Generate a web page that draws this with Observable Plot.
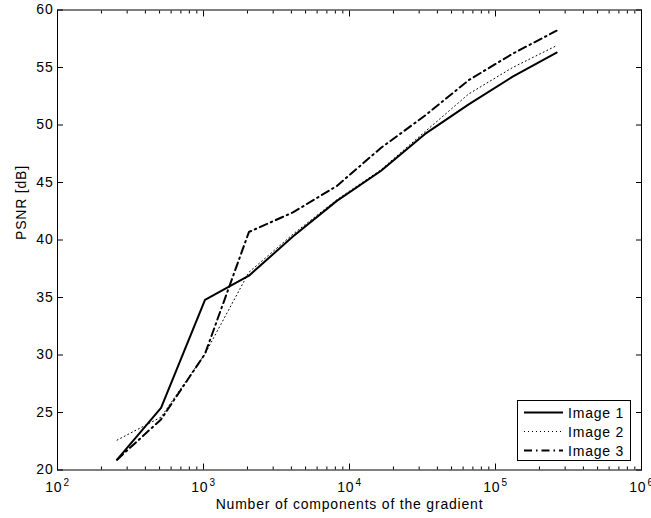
<!DOCTYPE html>
<html><head><meta charset="utf-8">
<script src="https://cdn.jsdelivr.net/npm/d3@7"></script>
<script src="https://cdn.jsdelivr.net/npm/@observablehq/plot@0.6"></script>
<style>
body{margin:0;background:#fff;}
#wrap{position:relative;width:651px;height:518px;font-family:"Liberation Sans",Arial,Helvetica,sans-serif;}
#legend{position:absolute;left:517px;top:400px;width:112px;height:59px;border:1px solid #000;background:#fff;box-sizing:content-box;}
.lrow{position:absolute;left:0;height:19px;display:flex;align-items:center;font-size:14px;color:#000;letter-spacing:0.8px;}
</style></head><body><div id="wrap"></div>
<script>
// ---- data ----
const components = [256, 512, 1024, 2048, 4096, 8192, 16384, 32768, 65536, 131072, 262144];
const image1 = [20.9, 25.4, 34.8, 36.9, 40.3, 43.4, 46.0, 49.2, 51.8, 54.2, 56.3];
const image2 = [22.6, 24.6, 30.1, 37.2, 40.5, 43.5, 46.1, 49.4, 52.7, 55.0, 56.9];
const image3 = [20.9, 24.4, 30.1, 40.7, 42.4, 44.7, 48.0, 50.8, 53.9, 56.2, 58.2];
const seriesNames = ["Image 1", "Image 2", "Image 3"];
const xMajorTicks = [1e2, 1e3, 1e4, 1e5, 1e6];
const yTicks = [20, 25, 30, 35, 40, 45, 50, 55, 60];
const xLabel = "Number of components of the gradient";
const yLabel = "PSNR [dB]";

// ---- styles ----
const lineStyles = [
  {strokeWidth: 2, strokeDasharray: null},
  {strokeWidth: 1, strokeDasharray: "1,3"},
  {strokeWidth: 2, strokeDasharray: "8,4,1.5,4"}
];

const seriesValues = [image1, image2, image3];
const rows = [];
seriesNames.forEach((s, i) => components.forEach((c, j) => rows.push({series: s, x: c, y: seriesValues[i][j]})));
const xMinorTicks = [];
for (let e = 2; e < 6; e++) for (let m = 2; m < 10; m++) xMinorTicks.push(m * Math.pow(10, e));

const font = '"Liberation Sans", Arial, Helvetica, sans-serif';

const chart = Plot.plot({
  width: 651, height: 518,
  marginLeft: 57, marginRight: 10, marginTop: 9.5, marginBottom: 48.5,
  style: {fontFamily: font, fontSize: "14px", background: "white", color: "black", overflow: "visible", letterSpacing: "0.8px"},
  x: {type: "log", domain: [1e2, 1e6], label: null},
  y: {domain: [20, 60], label: null},
  marks: [
    // inward ticks
    Plot.axisX({anchor: "bottom", ticks: xMinorTicks, tickSize: -3, fill: "none", label: null}),
    Plot.axisX({anchor: "top", ticks: xMinorTicks, tickSize: -3, fill: "none", label: null}),
    Plot.axisX({anchor: "bottom", ticks: xMajorTicks, tickSize: -6, fill: "none", label: null}),
    Plot.axisX({anchor: "top", ticks: xMajorTicks, tickSize: -6, fill: "none", label: null}),
    Plot.axisY({anchor: "left", ticks: yTicks, tickSize: -6, fill: "none", label: null}),
    Plot.axisY({anchor: "right", ticks: yTicks, tickSize: -6, fill: "none", label: null}),
    // tick labels
    Plot.axisX({anchor: "bottom", ticks: xMajorTicks, tickSize: 0, tickPadding: 12,
      tickFormat: d => String(Math.round(Math.log10(d))), label: null, fontSize: 14}),
    Plot.axisY({anchor: "left", ticks: yTicks, tickSize: 0, tickPadding: 4, label: null, fontSize: 14}),
    // series
    ...seriesNames.map((s, i) => Plot.line(rows, {
      filter: d => d.series === s, x: "x", y: "y", stroke: "black",
      strokeWidth: lineStyles[i].strokeWidth, strokeDasharray: lineStyles[i].strokeDasharray,
      strokeLinejoin: "round"
    })),
    Plot.frame({stroke: "black", strokeWidth: 1}),
    // axis titles
    Plot.text([xLabel], {frameAnchor: "bottom", dy: 39, lineAnchor: "bottom", text: d => d, fontSize: 14}),
    Plot.text([yLabel], {frameAnchor: "left", dx: -36, rotate: -90, text: d => d, fontSize: 14})
  ]
});

document.getElementById("wrap").appendChild(chart);

// superscript exponents on x tick labels
d3.select(chart).selectAll('g[aria-label="x-axis tick label"] text').each(function() {
  const t = d3.select(this);
  const e = t.text();
  t.text("10");
  t.append("tspan").attr("dy", "-5.5").attr("dx", "1").attr("font-size", "10px").text(e);
});

// legend
const legend = document.createElement("div");
legend.id = "legend";
seriesNames.forEach((s, i) => {
  const row = document.createElement("div");
  row.className = "lrow";
  row.style.top = (2 + i * 19.2) + "px";
  const st = lineStyles[i];
  row.innerHTML = `<svg width="48" height="19" style="display:block"><line x1="6" x2="45" y1="9.5" y2="9.5" stroke="black" stroke-width="${st.strokeWidth}" ${st.strokeDasharray ? `stroke-dasharray="${st.strokeDasharray}"` : ""}/></svg><span style="margin-left:2px">${s}</span>`;
  legend.appendChild(row);
});
document.getElementById("wrap").appendChild(legend);
</script>
</body></html>
